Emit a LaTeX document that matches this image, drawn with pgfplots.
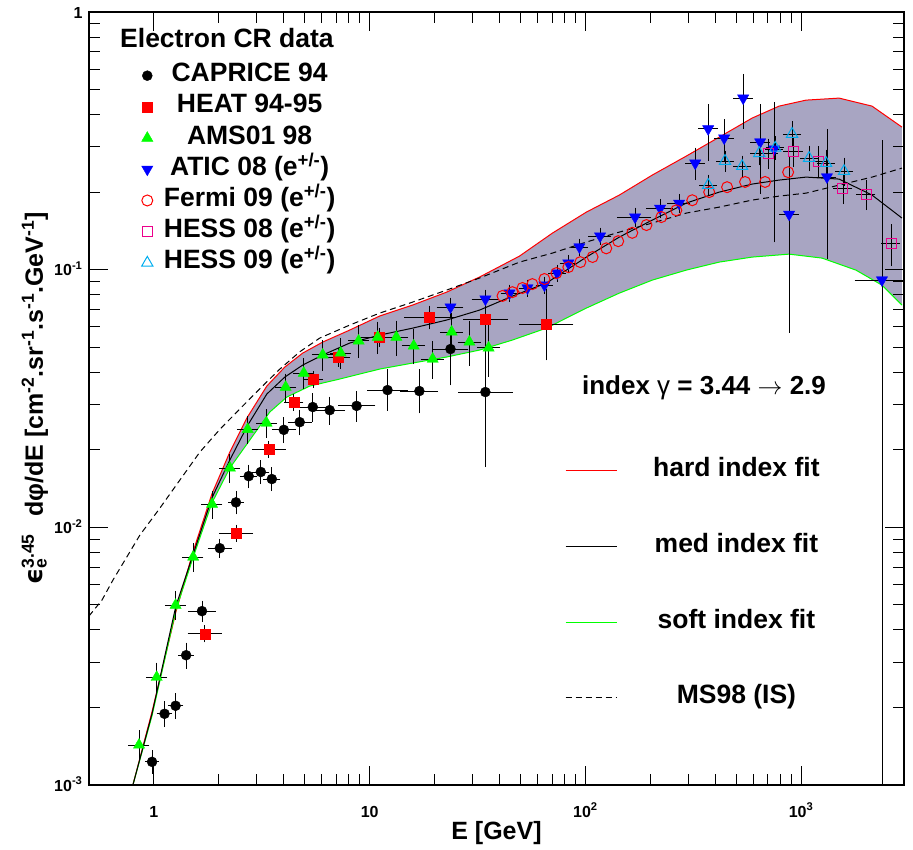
\documentclass[border=0pt]{standalone}
\usepackage{pgfplots}
\pgfplotsset{compat=1.18}
\usepackage{pgfplotstable}
\usepackage{fontspec}
\setmainfont{Liberation Sans}
\newfontfamily\dejavu{DejaVu Sans}
\definecolor{band}{RGB}{168,165,194}
\definecolor{mygreen}{RGB}{0,255,0}

% x y exm exp eym eyp  (relative errors)
\pgfplotstableread{
x y exm exp eym eyp
0.98 1.23e-3 0.03 0.03 0.07 0.07
1.12 1.89e-3 0.04 0.04 0.08 0.08
1.26 2.03e-3 0.04 0.04 0.08 0.08
1.41 3.19e-3 0.04 0.04 0.08 0.08
1.67 4.73e-3 0.10 0.11 0.06 0.06
2.02 8.3e-3 0.08 0.09 0.05 0.05
2.40 1.25e-2 0.04 0.04 0.07 0.07
2.75 1.58e-2 0.05 0.05 0.07 0.07
3.13 1.64e-2 0.05 0.05 0.07 0.07
3.52 1.54e-2 0.05 0.05 0.07 0.07
4.00 2.39e-2 0.08 0.09 0.08 0.08
4.74 2.56e-2 0.08 0.09 0.08 0.08
5.45 2.93e-2 0.09 0.10 0.09 0.09
6.53 2.85e-2 0.11 0.13 0.09 0.09
8.70 2.96e-2 0.14 0.17 0.10 0.10
12.1 3.41e-2 0.16 0.19 0.14 0.16
17.0 3.38e-2 0.15 0.17 0.15 0.17
23.7 4.92e-2 0.14 0.16 0.25 0.18
34.4 3.35e-2 0.22 0.28 0.47 0.80
}\caprice
\pgfplotstableread{
x y exm exp eym eyp
1.72 3.86e-3 0.13 0.15 0.04 0.04
2.40 9.5e-3 0.13 0.15 0.04 0.04
3.41 2.01e-2 0.13 0.15 0.04 0.04
4.45 3.06e-2 0.06 0.06 0.04 0.04
5.50 3.76e-2 0.06 0.06 0.04 0.04
7.18 4.58e-2 0.08 0.08 0.05 0.05
11.1 5.47e-2 0.15 0.18 0.05 0.05
18.9 6.54e-2 0.20 0.25 0.07 0.07
34.4 6.42e-2 0.18 0.22 0.08 0.08
65.9 6.15e-2 0.22 0.28 0.25 0.32
}\heat
\pgfplotstableread{
x y exm exp eym eyp
0.853 1.43e-3 0.07 0.07 0.10 0.10
1.03 2.62e-3 0.07 0.07 0.10 0.10
1.26 4.99e-3 0.07 0.07 0.09 0.09
1.52 7.67e-3 0.07 0.07 0.09 0.09
1.86 1.23e-2 0.07 0.07 0.09 0.09
2.25 1.70e-2 0.07 0.07 0.09 0.09
2.72 2.40e-2 0.07 0.07 0.09 0.09
3.33 2.54e-2 0.07 0.07 0.09 0.09
4.08 3.50e-2 0.07 0.07 0.09 0.09
4.95 3.97e-2 0.07 0.07 0.10 0.10
6.06 4.67e-2 0.07 0.07 0.10 0.10
7.34 4.75e-2 0.07 0.07 0.10 0.10
8.89 5.29e-2 0.07 0.07 0.11 0.11
10.9 5.47e-2 0.08 0.08 0.11 0.11
13.3 5.47e-2 0.08 0.08 0.12 0.12
16.0 5.06e-2 0.08 0.08 0.12 0.12
19.6 4.50e-2 0.08 0.08 0.13 0.13
24.0 5.73e-2 0.08 0.08 0.14 0.14
29.0 5.24e-2 0.08 0.08 0.16 0.16
35.6 4.97e-2 0.08 0.08 0.20 0.20
}\ams
\pgfplotstableread{
x y exm exp eym eyp
23.7 7.16e-2 0.10 0.10 0.05 0.05
34.4 7.69e-2 0.10 0.10 0.05 0.05
44.5 8.11e-2 0.05 0.05 0.04 0.04
53.9 8.49e-2 0.05 0.05 0.04 0.04
64.6 8.71e-2 0.05 0.05 0.04 0.04
74.1 9.70e-2 0.05 0.05 0.04 0.04
83.4 0.106 0.05 0.05 0.04 0.04
93.8 0.1225 0.05 0.05 0.04 0.04
117 0.135 0.08 0.08 0.04 0.04
170 0.160 0.14 0.14 0.05 0.05
222 0.173 0.10 0.10 0.05 0.05
272 0.181 0.08 0.08 0.05 0.05
323 0.259 0.06 0.06 0.11 0.11
371 0.352 0.06 0.06 0.22 0.20
440 0.324 0.06 0.06 0.16 0.14
539 0.463 0.06 0.06 0.21 0.20
646 0.313 0.06 0.06 0.35 0.35
750 0.294 0.05 0.05 0.55 0.47
880 0.164 0.06 0.06 0.64 0.62
1318 0.229 0.06 0.06 0.50 0.48
2371 0.0912 0.22 0.24 0.99 2.37
}\atic
\pgfplotstableread{
x y
41.3 0.0791
45.9 0.0818
51.1 0.0849
56.8 0.0879
64.6 0.0920
73.4 0.0970
83.4 0.1023
94.8 0.107
108 0.112
125 0.121
142 0.129
165 0.139
192 0.149
225 0.160
264 0.170
313 0.186
375 0.200
454 0.209
550 0.219
681 0.219
871 0.239
}\fermi
\pgfplotstableread{
x y exm exp eym eyp
703 0.283 0.06 0.06 0.10 0.10
918 0.288 0.06 0.06 0.10 0.10
1199 0.264 0.06 0.06 0.10 0.10
1564 0.207 0.06 0.06 0.10 0.10
2000 0.196 0.06 0.06 0.10 0.10
2612 0.126 0.06 0.06 0.15 0.15
}\hessA
\pgfplotstableread{
x y exm exp eym eyp
371 0.213 0.05 0.05 0.06 0.06
444 0.264 0.05 0.05 0.06 0.06
533 0.252 0.05 0.05 0.06 0.06
640 0.283 0.05 0.05 0.07 0.07
759 0.297 0.05 0.05 0.07 0.07
908 0.336 0.05 0.05 0.08 0.08
1089 0.271 0.05 0.05 0.08 0.08
1306 0.259 0.05 0.05 0.09 0.09
1581 0.241 0.05 0.05 0.09 0.09
}\hessB
\pgfplotstableread{
x y
0.799 1.00e-3
0.979 1.92e-3
1.264 4.69e-3
1.516 8.02e-3
1.856 1.346e-2
2.248 1.960e-2
2.696 2.655e-2
3.336 3.534e-2
4.042 4.188e-2
4.895 4.746e-2
6.059 5.236e-2
8.08 5.829e-2
11.13 6.61e-2
15.82 7.29e-2
22.73 8.18e-2
32.30 9.36e-2
49.5 0.1129
70.4 0.1387
101.1 0.1673
143.7 0.1948
204.3 0.2329
293.5 0.2759
417.3 0.3269
593.1 0.3876
791 0.4313
1055 0.4550
1500 0.4633
2132 0.4313
2936 0.3575
}\hard
\pgfplotstableread{
x y
0.799 1.00e-3
0.979 1.886e-3
1.264 4.95e-3
1.516 7.81e-3
1.856 1.299e-2
2.248 1.825e-2
2.724 2.495e-2
3.336 3.291e-2
4.042 3.830e-2
4.895 4.264e-2
6.059 4.663e-2
8.08 5.191e-2
11.13 5.573e-2
15.82 5.931e-2
22.73 6.375e-2
32.30 6.967e-2
45.9 7.898e-2
65.98 8.87e-2
101.1 0.1119
143.7 0.1338
204.3 0.1558
293.5 0.1813
417.3 0.2000
593.1 0.2149
791 0.2227
1055 0.2287
1500 0.2247
2132 0.1948
2936 0.1586
}\med
\pgfplotstableread{
x y
0.799 1.00e-3
0.979 1.852e-3
1.264 4.776e-3
1.516 7.60e-3
1.856 1.243e-2
2.248 1.699e-2
2.783 2.182e-2
3.444 2.802e-2
4.128 3.203e-2
5.275 3.534e-2
7.262 3.763e-2
11.13 4.114e-2
15.82 4.341e-2
22.73 4.581e-2
32.30 4.875e-2
45.9 5.332e-2
65.98 5.931e-2
101.1 7.096e-2
143.7 8.11e-2
204.3 9.11e-2
293.5 9.96e-2
417.3 0.1070
593.1 0.1119
879.8 0.1149
1251 0.1109
1797 9.96e-2
2371 8.71e-2
2936 7.29e-2
}\soft
% band outline: hard fit forward, then soft fit backward
\pgfplotstableread{
x y
0.799 1.00e-3
0.979 1.92e-3
1.264 4.69e-3
1.516 8.02e-3
1.856 1.346e-2
2.248 1.960e-2
2.696 2.655e-2
3.336 3.534e-2
4.042 4.188e-2
4.895 4.746e-2
6.059 5.236e-2
8.08 5.829e-2
11.13 6.61e-2
15.82 7.29e-2
22.73 8.18e-2
32.30 9.36e-2
49.5 0.1129
70.4 0.1387
101.1 0.1673
143.7 0.1948
204.3 0.2329
293.5 0.2759
417.3 0.3269
593.1 0.3876
791 0.4313
1055 0.4550
1500 0.4633
2132 0.4313
2936 0.3575
2936 7.29e-2
2371 8.71e-2
1797 9.96e-2
1251 0.1109
879.8 0.1149
593.1 0.1119
417.3 0.1070
293.5 9.96e-2
204.3 9.11e-2
143.7 8.11e-2
101.1 7.096e-2
65.98 5.931e-2
45.9 5.332e-2
32.30 4.875e-2
22.73 4.581e-2
15.82 4.341e-2
11.13 4.114e-2
7.262 3.763e-2
5.275 3.534e-2
4.128 3.203e-2
3.444 2.802e-2
2.783 2.182e-2
2.248 1.699e-2
1.856 1.243e-2
1.516 7.60e-3
1.264 4.776e-3
0.979 1.852e-3
0.799 1.00e-3
}\bandtab
\pgfplotstableread{
x y
0.5 4.527e-3
0.5744 5.222e-3
0.6458 6.245e-3
0.7340 7.465e-3
0.8614 9.34e-3
1.066 1.188e-2
1.319 1.526e-2
1.633 1.960e-2
2.021 2.400e-2
2.501 2.880e-2
3.095 3.450e-2
3.831 4.110e-2
4.742 4.800e-2
5.868 5.427e-2
8.08 6.095e-2
11.13 6.785e-2
15.82 7.485e-2
22.73 8.33e-2
32.30 9.28e-2
49.5 0.1070
70.4 0.1160
101.1 0.1280
143.7 0.1399
204.3 0.1517
293.5 0.1658
417.3 0.1749
593.1 0.1863
791 0.1930
1055 0.1982
1500 0.2129
2132 0.2287
2936 0.2479
}\msnine

\pgfplotsset{
  errs/.style={
    error bars/x dir=both, error bars/x explicit relative,
    error bars/y dir=both, error bars/y explicit relative,
    error bars/error bar style={black, line width=0.9pt},
    error bars/error mark options={black, mark size=4pt, line width=0.9pt},
  },
}

\begin{document}
\begin{tikzpicture}
\begin{axis}[
  at={(89pt,64pt)}, anchor=south west,
  width=815pt, height=773pt, scale only axis,
  xmode=log, ymode=log,
  xmin=0.5, xmax=3000, ymin=1e-3, ymax=1,
  hide axis,
  legend cell align=center,
  legend image code/.code={\draw[#1] (0pt,0pt) -- (51pt,0pt);},
  legend style={at={(axis description cs:0.5804,0.425)}, anchor=north west, draw=none, fill=none,
    font=\bfseries\fontsize{26.5}{26.5}\selectfont, row sep=51.7pt, column sep=36pt,
    nodes={inner sep=0pt, text height=18pt, text depth=6pt}},
]
\addplot[draw=none, forget plot] table {\med};
\addlegendimage{red, line width=1pt}
\addlegendentry{hard index fit}
\addlegendimage{black, line width=1pt}
\addlegendentry{med index fit}
\addlegendimage{mygreen, line width=1pt}
\addlegendentry{soft index fit}
\addlegendimage{black, line width=1pt, dash pattern=on 6pt off 4pt}
\addlegendentry{MS98 (IS)}
\end{axis}
\begin{axis}[
  at={(89pt,64pt)}, anchor=south west,
  width=815pt, height=773pt, scale only axis,
  xmode=log, ymode=log,
  xmin=0.5, xmax=3000, ymin=1e-3, ymax=1,
  xtick={1,10,100,1000},
  xticklabels={1,10,10\textsuperscript{2},10\textsuperscript{3}},
  ytick={0.001,0.01,0.1,1},
  yticklabels={10\textsuperscript{-3},10\textsuperscript{-2},10\textsuperscript{-1},1},
  tick align=inside,
  major tick length=19pt, minor tick length=11pt,
  tick style={draw=black, line width=0.9pt},
  major tick style={draw=black},
  minor tick style={draw=black},
  axis line style={line width=1.2pt},
  xticklabel style={font=\bfseries\fontsize{16}{16}\selectfont, anchor=base, yshift=-32pt},
  yticklabel style={font=\bfseries\fontsize{16}{16}\selectfont, anchor=base east, yshift=-6pt, xshift=-3pt},
  every axis x label/.style={at={(axis description cs:0.5,-0.0621)}, anchor=center},
  every axis y label/.style={at={(axis description cs:-0.0663,0.5)}, anchor=center, rotate=90},
  label style={font=\bfseries\fontsize{25}{25}\selectfont},
  xlabel={E [GeV]},
  ylabel={{\dejavu\bfseries ϵ}\rlap{\textsuperscript{3.45}}\textsubscript{e}\hphantom{\textsuperscript{3.45}} dφ/dE [cm\textsuperscript{-2}.sr\textsuperscript{-1}.s\textsuperscript{-1}.GeV\textsuperscript{-1}]},
  axis on top,
  clip=true,
  legend cell align=center,
  legend style={at={(axis description cs:0.0607,0.936)}, anchor=north west, draw=none, fill=none,
    font=\bfseries\fontsize{26.5}{26.5}\selectfont, row sep=7.2pt, column sep=11pt,
    nodes={inner sep=0pt, text height=18pt, text depth=6pt}},
]
\addplot[fill=band, draw=none, forget plot] table {\bandtab} -- cycle;
\addplot[red, line width=1pt, forget plot] table {\hard};
\addplot[mygreen, line width=1pt, forget plot] table {\soft};
\addplot[black, line width=1pt, dash pattern=on 6pt off 4pt, forget plot] table {\msnine};
\addplot[black, line width=1pt, forget plot] table {\med};

\addplot[only marks, mark=*, mark size=5pt, mark options={fill=black, draw=black}, errs]
  table[x=x,y=y,x error minus=exm,x error plus=exp,y error minus=eym,y error plus=eyp] {\caprice};
\addlegendentry{CAPRICE 94}
\addplot[only marks, mark=square*, mark size=5pt, mark options={fill=red, draw=red}, errs]
  table[x=x,y=y,x error minus=exm,x error plus=exp,y error minus=eym,y error plus=eyp] {\heat};
\addlegendentry{HEAT 94-95}
\addplot[only marks, mark=triangle*, mark size=6.5pt, mark options={fill=mygreen, draw=mygreen}, errs]
  table[x=x,y=y,x error minus=exm,x error plus=exp,y error minus=eym,y error plus=eyp] {\ams};
\addlegendentry{AMS01 98}
\addplot[only marks, mark=triangle*, mark size=6.5pt, mark options={fill=blue, draw=blue, rotate=180}, errs]
  table[x=x,y=y,x error minus=exm,x error plus=exp,y error minus=eym,y error plus=eyp] {\atic};
\addlegendentry{ATIC 08 (e\textsuperscript{+/-})}
\addplot[only marks, mark=o, mark size=5.5pt, mark options={draw=red, line width=1pt}] table {\fermi};
\addlegendentry{Fermi 09 (e\textsuperscript{+/-})}
\addplot[only marks, mark=square, mark size=5pt, mark options={draw=magenta, line width=1pt}, errs]
  table[x=x,y=y,x error minus=exm,x error plus=exp,y error minus=eym,y error plus=eyp] {\hessA};
\addlegendentry{HESS 08 (e\textsuperscript{+/-})}
\addplot[only marks, mark=triangle, mark size=6.5pt, mark options={draw=cyan, line width=1pt}, errs]
  table[x=x,y=y,x error minus=exm,x error plus=exp,y error minus=eym,y error plus=eyp] {\hessB};
\addlegendentry{HESS 09 (e\textsuperscript{+/-})}

\node[font=\bfseries\fontsize{26.5}{26.5}\selectfont] at (axis description cs:0.1693,0.9664) {Electron CR data};
\node[font=\bfseries\fontsize{26}{26}\selectfont] at (axis description cs:0.7546,0.5136) {index {\mdseries γ} = 3.44 $\rightarrow$ 2.9};
\end{axis}
\pgfresetboundingbox
\path[use as bounding box] (0,0) rectangle (913pt,849pt);
\end{tikzpicture}
\end{document}
